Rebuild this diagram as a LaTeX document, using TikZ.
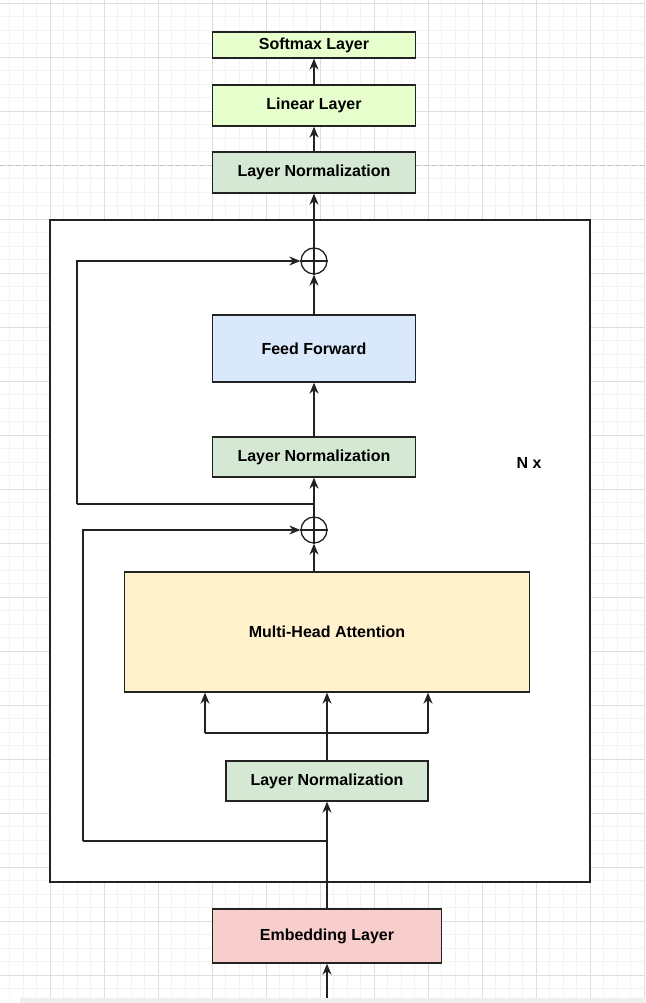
\documentclass[tikz,border=0pt]{standalone}
\usepackage{fontspec}
\setmainfont{Liberation Sans}
\usetikzlibrary{arrows.meta,positioning,calc}
\definecolor{LimeFill}{RGB}{230,255,204}
\definecolor{NormFill}{RGB}{213,232,212}
\definecolor{FeedFill}{RGB}{218,232,252}
\definecolor{AttnFill}{RGB}{255,242,204}
\definecolor{EmbFill}{RGB}{248,206,204}
\definecolor{EdgeGray}{RGB}{34,34,34}
\definecolor{GridMinor}{RGB}{243,243,243}
\definecolor{GridMajor}{RGB}{222,222,222}
\definecolor{PageGray}{RGB}{196,196,196}
\definecolor{BarGray}{RGB}{238,238,238}

\begin{document}
\begin{tikzpicture}[x=1pt,y=-1pt,
    layer/.style={draw=EdgeGray,line width=1.3pt,align=center,
      font=\bfseries\fontsize{16}{19}\selectfont,inner sep=0pt},
    addop/.style={draw=EdgeGray,line width=1.3pt,circle,minimum size=26pt,inner sep=0pt},
    flow/.style={draw=EdgeGray,line width=1.3pt,-{Stealth[length=11pt,width=9pt,inset=3.5pt]}},
    wire/.style={draw=EdgeGray,line width=1.3pt}]
  \useasboundingbox (0,0) rectangle (645,1003);
  % background grid
  \foreach \i in {0,...,48}
    \draw[GridMinor,line width=0.8pt] ({-4+13.5*\i},0) -- ({-4+13.5*\i},998);
  \foreach \i in {0,...,73}
    \draw[GridMinor,line width=0.8pt] (0,{3+13.5*\i}) -- (645,{3+13.5*\i});
  \foreach \i in {0,...,12}
    \draw[GridMajor,line width=0.9pt] ({-4+54*\i},0) -- ({-4+54*\i},998);
  \foreach \i in {0,...,18}
    \draw[GridMajor,line width=0.9pt] (0,{3+54*\i}) -- (645,{3+54*\i});
  \draw[PageGray,line width=1pt,dash pattern=on 5pt off 3pt] (0,166) -- (645,166);
  \fill[BarGray] (20,998) rectangle (645,1003);

  % repeated block
  \node[draw=EdgeGray,line width=1.3pt,fill=white,minimum width=540pt,
    minimum height=662pt] (block) at (320,551) {};
  \node[font=\bfseries\fontsize{16}{19}\selectfont] (nx) at (529,463) {N x};

  \node[layer,fill=LimeFill,minimum width=203pt,minimum height=26pt] (softmax) at (314,45) {Softmax Layer};
  \node[layer,fill=LimeFill,minimum width=203pt,minimum height=41pt] (linear) at (314,105.5) {Linear Layer};
  \node[layer,fill=NormFill,minimum width=203pt,minimum height=41pt] (normout) at (314,172.5) {Layer Normalization};
  \node[addop] (addtop) at (314,261) {};
  \node[layer,fill=FeedFill,minimum width=203pt,minimum height=67pt] (feed) at (314,348.5) {Feed Forward};
  \node[layer,fill=NormFill,minimum width=203pt,minimum height=40pt] (normff) at (314,457) {Layer Normalization};
  \node[addop] (addbot) at (314,530) {};
  \node[layer,fill=AttnFill,minimum width=405pt,minimum height=120pt] (attn) at (327,632) {Multi-Head Attention};
  \node[layer,fill=NormFill,minimum width=202pt,minimum height=40pt] (normattn) at (327,781) {Layer Normalization};
  \node[layer,fill=EmbFill,minimum width=229pt,minimum height=54pt] (embed) at (327,936) {Embedding Layer};

  \draw[wire] (addtop.north) -- (addtop.south) (addtop.west) -- (addtop.east);
  \draw[wire] (addbot.north) -- (addbot.south) (addbot.west) -- (addbot.east);

  \coordinate (input) at (327,998);
  \coordinate (skipbot) at (83,841);
  \coordinate (skiptop) at (77,504);
  \coordinate (splitl) at (205,733);
  \coordinate (splitr) at (428,733);

  \draw[flow] (input) -- (embed.south);
  \draw[flow] (embed.north) -- (normattn.south);
  \draw[wire] (normattn.south |- skipbot) -- (skipbot);
  \draw[flow] (skipbot) |- (addbot.west);
  \draw[flow] (normattn.north) -- (attn.south);
  \draw[wire] (splitl) -- (splitr);
  \draw[flow] (splitl) -- (splitl |- attn.south);
  \draw[flow] (splitr) -- (splitr |- attn.south);
  \draw[flow] (addbot |- attn.north) -- (addbot.south);
  \draw[flow] (addbot.north) -- (normff.south);
  \draw[wire] (addbot |- skiptop) -- (skiptop);
  \draw[flow] (skiptop) |- (addtop.west);
  \draw[flow] (normff.north) -- (feed.south);
  \draw[flow] (feed.north) -- (addtop.south);
  \draw[flow] (addtop.north) -- (normout.south);
  \draw[flow] (normout.north) -- (linear.south);
  \draw[flow] (linear.north) -- (softmax.south);
\end{tikzpicture}
\end{document}
